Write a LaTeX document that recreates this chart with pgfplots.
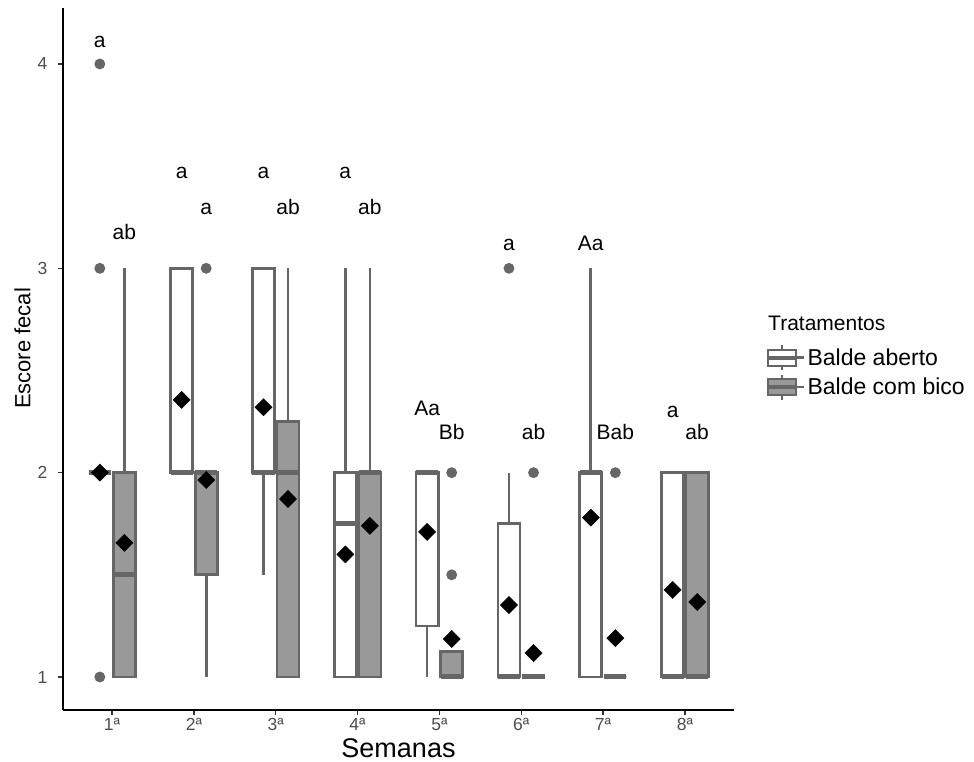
\documentclass[border=0pt]{standalone}
\usepackage{pgfplots}
\pgfplotsset{compat=1.18}
\usepgfplotslibrary{statistics}
\usepackage{fontspec}
\setmainfont{Liberation Sans}
\definecolor{boxline}{RGB}{102,102,102}
\definecolor{boxfill}{RGB}{153,153,153}
\definecolor{tickgrey}{RGB}{77,77,77}
\definecolor{tickmark}{RGB}{51,51,51}
\newcommand\tl{\fontsize{17.5}{20}\selectfont}
\pgfplotsset{
  bxbase/.style={draw=boxline, line width=2.7pt, line cap=butt,
    boxplot/draw direction=y, boxplot/box extend=0.27, boxplot/whisker extend=0,
    boxplot/every median/.style={line width=5pt},
    mark=*, mark size=4pt, mark options={fill=boxline, draw=none}},
  bxa/.style={bxbase, fill=white, boxplot prepared={#1}},
  bxg/.style={bxbase, fill=boxfill, boxplot prepared={#1}},
}
\tikzset{anno/.style={anchor=base, inner sep=0pt, font=\fontsize{21}{25}\selectfont}}
\begin{document}
\begin{tikzpicture}
\begin{axis}[
  at={(0pt,0pt)}, anchor=south west,
  scale only axis, width=671pt, height=702pt,
  xmin=0.4, xmax=8.6, ymin=0.8385, ymax=4.274,
  clip=false,
  axis x line*=bottom, axis y line*=left,
  axis line style={line width=1.8pt, black, -},
  xtick={1,2,3,4,5,6,7,8},
  xticklabels={{\tl 1ª},{\tl 2ª},{\tl 3ª},{\tl 4ª},{\tl 5ª},{\tl 6ª},{\tl 7ª},{\tl 8ª}},
  ytick={1,2,3,4},
  yticklabels={{\tl 1},{\tl 2},{\tl 3},{\tl 4}},
  tick align=outside, major tick length=5pt,
  tick style={line width=1.3pt, tickmark},
  every tick label/.append style={text=tickgrey, font=\tl},
  yticklabel style={anchor=east, inner sep=0pt, xshift=-10.5pt, font=\tl},
  xticklabel style={anchor=north, inner sep=0pt, yshift=-3pt, font=\tl},
  xlabel={Semanas}, ylabel={Escore fecal},
  xlabel style={font=\fontsize{27}{32}\selectfont, at={(axis description cs:0.5,-0.067)}, anchor=base},
  ylabel style={font=\fontsize{22}{26}\selectfont, at={(axis description cs:-0.0604,0.515)}, anchor=center},
  legend style={at={(axis description cs:1.0477,0.5214)}, anchor=north west, draw=none, fill=none,
    font=\fontsize{23}{27}\selectfont, inner sep=0pt, row sep=2pt},
  legend cell align=left,
  legend image code/.code={
    \path (0pt,0pt) -- (36pt,0pt);
    \draw[#1, line width=2.3pt] (0pt,-8pt) rectangle (28pt,8pt);
    \draw[#1, line width=4pt] (0pt,0pt) -- (28pt,0pt);
    \draw[#1, line width=2.3pt] (14pt,8pt) -- (14pt,12.5pt) (14pt,-8pt) -- (14pt,-12.5pt);
  },
]
% Week 1
\addplot[bxa={draw position=0.85, lower whisker=2, lower quartile=2, median=2, upper quartile=2, upper whisker=2}] coordinates {(0,4) (0,3) (0,1)};
\addlegendentry{Balde aberto}
\addplot[bxg={draw position=1.15, lower whisker=1, lower quartile=1, median=1.5, upper quartile=2, upper whisker=3}] coordinates {};
\addlegendentry{Balde com bico}
% Week 2
\addplot[forget plot, bxa={draw position=1.85, lower whisker=2, lower quartile=2, median=2, upper quartile=3, upper whisker=3}] coordinates {};
\addplot[forget plot, bxg={draw position=2.15, lower whisker=1, lower quartile=1.5, median=2, upper quartile=2, upper whisker=2}] coordinates {(0,3)};
% Week 3
\addplot[forget plot, bxa={draw position=2.85, lower whisker=1.5, lower quartile=2, median=2, upper quartile=3, upper whisker=3}] coordinates {};
\addplot[forget plot, bxg={draw position=3.15, lower whisker=1, lower quartile=1, median=2, upper quartile=2.25, upper whisker=3}] coordinates {};
% Week 4
\addplot[forget plot, bxa={draw position=3.85, lower whisker=1, lower quartile=1, median=1.75, upper quartile=2, upper whisker=3}] coordinates {};
\addplot[forget plot, bxg={draw position=4.15, lower whisker=1, lower quartile=1, median=2, upper quartile=2, upper whisker=3}] coordinates {};
% Week 5
\addplot[forget plot, bxa={draw position=4.85, lower whisker=1, lower quartile=1.25, median=2, upper quartile=2, upper whisker=2}] coordinates {};
\addplot[forget plot, bxg={draw position=5.15, lower whisker=1, lower quartile=1, median=1, upper quartile=1.125, upper whisker=1.125}] coordinates {(0,2) (0,1.5)};
% Week 6
\addplot[forget plot, bxa={draw position=5.85, lower whisker=1, lower quartile=1, median=1, upper quartile=1.75, upper whisker=2}] coordinates {(0,3)};
\addplot[forget plot, bxg={draw position=6.15, lower whisker=1, lower quartile=1, median=1, upper quartile=1, upper whisker=1}] coordinates {(0,2)};
% Week 7
\addplot[forget plot, bxa={draw position=6.85, lower whisker=1, lower quartile=1, median=2, upper quartile=2, upper whisker=3}] coordinates {};
\addplot[forget plot, bxg={draw position=7.15, lower whisker=1, lower quartile=1, median=1, upper quartile=1, upper whisker=1}] coordinates {(0,2)};
% Week 8
\addplot[forget plot, bxa={draw position=7.85, lower whisker=1, lower quartile=1, median=1, upper quartile=2, upper whisker=2}] coordinates {};
\addplot[forget plot, bxg={draw position=8.15, lower whisker=1, lower quartile=1, median=1, upper quartile=2, upper whisker=2}] coordinates {};
% Means
\addplot[forget plot, only marks, mark=square*, mark size=6.1pt, mark options={rotate=45, fill=black, draw=black, line width=0.4pt}] coordinates {
(0.85,2.00) (1.15,1.656) (1.85,2.356) (2.15,1.964) (2.85,2.32) (3.15,1.871)
(3.85,1.60) (4.15,1.74) (4.85,1.71) (5.15,1.186) (5.85,1.352) (6.15,1.117)
(6.85,1.78) (7.15,1.19) (7.85,1.426) (8.15,1.367)};
% Letters
\node[anno] at (axis cs:0.85,4.083) {a};
\node[anno] at (axis cs:1.15,3.139) {ab};
\node[anno] at (axis cs:1.85,3.442) {a};
\node[anno] at (axis cs:2.15,3.261) {a};
\node[anno] at (axis cs:2.85,3.442) {a};
\node[anno] at (axis cs:3.15,3.261) {ab};
\node[anno] at (axis cs:3.85,3.442) {a};
\node[anno] at (axis cs:4.15,3.261) {ab};
\node[anno] at (axis cs:4.85,2.282) {Aa};
\node[anno] at (axis cs:5.15,2.160) {Bb};
\node[anno] at (axis cs:5.85,3.085) {a};
\node[anno] at (axis cs:6.15,2.160) {ab};
\node[anno] at (axis cs:6.85,3.085) {Aa};
\node[anno] at (axis cs:7.15,2.160) {Bab};
\node[anno] at (axis cs:7.85,2.272) {a};
\node[anno] at (axis cs:8.15,2.160) {ab};
\node[anchor=base west, inner sep=0pt, font=\fontsize{21}{25}\selectfont] at (axis description cs:1.0507,0.5399) {Tratamentos};
\end{axis}
\pgfresetboundingbox
\path[use as bounding box] (-63pt,-52pt) rectangle (911pt,710pt);
\end{tikzpicture}
\end{document}
